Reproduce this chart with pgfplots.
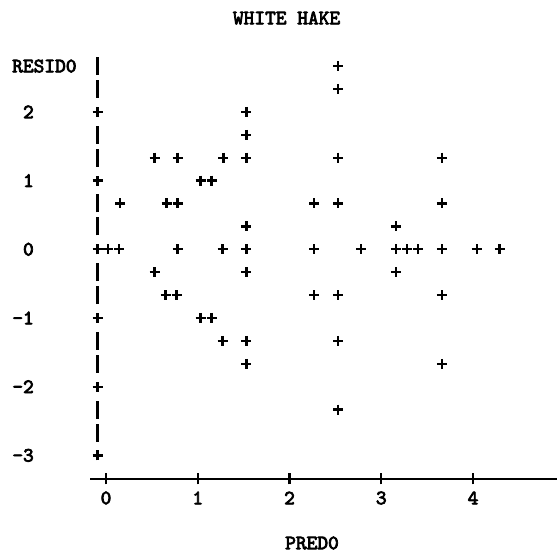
\documentclass[border=0pt]{standalone}
\usepackage{fontspec}
\newfontfamily\printfont{lmmono10-regular.otf}[FakeBold=3.6]
\usepackage{pgfplots}
\usepackage{pgfplotstable}
\pgfplotsset{compat=1.18}

% predicted value vs. residual, one row per fish sample
\pgfplotstableread{
x y
2.53 2.6667
2.53 2.3333
1.53 2
1.53 1.6667
0.53 1.3333
0.78 1.3333
1.28 1.3333
1.53 1.3333
2.53 1.3333
3.66 1.3333
1.03 1
1.15 1
0.155 0.6667
0.66 0.6667
0.78 0.6667
2.27 0.6667
2.53 0.6667
3.66 0.6667
1.53 0.3333
3.16 0.3333
0.025 0
0.145 0
0.78 0
1.27 0
1.53 0
2.27 0
2.78 0
3.16 0
3.28 0
3.40 0
3.66 0
4.04 0
4.29 0
0.53 -0.3333
1.53 -0.3333
3.16 -0.3333
0.65 -0.6667
0.77 -0.6667
2.27 -0.6667
2.53 -0.6667
3.66 -0.6667
1.03 -1
1.15 -1
1.27 -1.3333
1.53 -1.3333
2.53 -1.3333
1.53 -1.6667
3.66 -1.6667
2.53 -2.3333
}\residtable

\begin{document}
\begin{tikzpicture}[font=\printfont\fontsize{20.5}{22}\selectfont]
\begin{axis}[
  scale only axis, width=557bp, height=559bp,
  xmin=-1.1553, xmax=4.9155, ymin=-4.508, ymax=3.6288,
  axis lines=none, clip=false,
]
\path (rel axis cs:0,0) rectangle (rel axis cs:1,1);

% vertical axis drawn as a column of bars, with a cross at each tick
\pgfplotsinvokeforeach{2.6667,2.3333,1.6667,1.3333,0.6667,0.3333,-0.3333,-0.6667,-1.3333,-1.6667,-2.3333,-2.6667}{
  \draw[line width=2.3bp] (axis cs:-0.0926,#1) ++(0bp,-9bp) -- ++(0bp,18bp);
}
\pgfplotsinvokeforeach{-3,-2,-1,0,1,2}{
  \draw[line width=2.3bp] (axis cs:-0.0926,#1) ++(-5bp,0bp) -- ++(10bp,0bp) ++(-5bp,-5bp) -- ++(0bp,10bp);
  \node[anchor=east, inner sep=0pt] at (axis cs:-0.785,#1) {#1};
}

% horizontal axis with crosses at the ticks
\draw[line width=1.7bp] (axis cs:-0.174,-3.3435) -- (axis cs:4.9155,-3.3435);
\pgfplotsinvokeforeach{0,1,2,3,4}{
  \draw[line width=2.2bp] (axis cs:#1,-3.3435) ++(0bp,-5.5bp) -- ++(0bp,11bp);
  \node[inner sep=0pt] at (axis cs:#1,-3.62) {#1};
}

\node[inner sep=0pt] at (axis cs:1.968,3.367) {WHITE HAKE};
\node[anchor=west, inner sep=0pt] at (axis cs:-1.0245,2.6667) {RESID0};
\node[inner sep=0pt] at (axis cs:2.245,-4.275) {PRED0};

\addplot[only marks, mark=+, mark size=5bp, line width=2.3bp] table {\residtable};
\end{axis}
\end{tikzpicture}
\end{document}
